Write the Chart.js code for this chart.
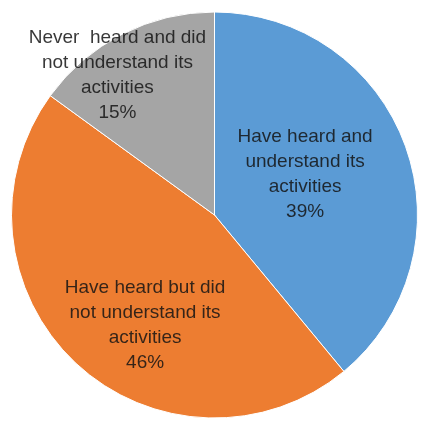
<!DOCTYPE html>
<html>
<head>
<meta charset="utf-8">
<script src="https://cdn.jsdelivr.net/npm/chart.js@4.4.1/dist/chart.umd.min.js"></script>
<style>
  html, body { margin: 0; padding: 0; background: #fff; }
  canvas { display: block; }
</style>
</head>
<body>
<canvas id="myChart" width="422" height="425"></canvas>
<script>
// survey answers, clockwise from 12 o'clock
const categories = [
  ["Have heard and", "understand its", "activities"],
  ["Have heard but did", "not understand its", "activities"],
  ["Never  heard and did", "not understand its", "activities"]
];
const shares = [39, 46, 15];
const sliceColors = ["#5B9BD5", "#ED7D31", "#A5A5A5"];

// where each label sits: fraction of radius, and degrees shifted off the slice middle
const labelSpots = [
  { r: 0.49, turn: -4.6 },
  { r: 0.64, turn: -10.9 },
  { r: 0.84, turn: -7.7 }
];

const sliceLabels = {
  id: "sliceLabels",
  afterDatasetsDraw(chart) {
    const ctx = chart.ctx;
    const meta = chart.getDatasetMeta(0);
    ctx.save();
    ctx.font = "19px 'Liberation Sans', Arial, sans-serif";
    ctx.fillStyle = "rgba(20,20,20,0.85)";
    ctx.textAlign = "center";
    ctx.textBaseline = "middle";
    meta.data.forEach((arc, i) => {
      const p = arc.getProps(["x", "y", "startAngle", "endAngle", "outerRadius"], true);
      const spot = labelSpots[i];
      const mid = (p.startAngle + p.endAngle) / 2 + spot.turn * Math.PI / 180;
      const cx = p.x + Math.cos(mid) * p.outerRadius * spot.r;
      const cy = p.y + Math.sin(mid) * p.outerRadius * spot.r;
      const lines = categories[i].concat([shares[i] + "%"]);
      const lh = 25;
      const top = cy - (lines.length - 1) * lh / 2;
      lines.forEach((t, k) => ctx.fillText(t, cx, top + k * lh));
    });
    ctx.restore();
  }
};

new Chart(document.getElementById("myChart"), {
  type: "pie",
  data: {
    labels: categories.map(c => c.join(" ")),
    datasets: [{
      data: shares,
      backgroundColor: sliceColors,
      borderColor: "#ffffff",
      borderWidth: 1
    }]
  },
  options: {
    responsive: false,
    animation: false,
    layout: { padding: { left: 11, right: 4, top: 10, bottom: 5 } },
    plugins: {
      legend: { display: false },
      tooltip: { enabled: false }
    }
  },
  plugins: [sliceLabels]
});
</script>
</body>
</html>
